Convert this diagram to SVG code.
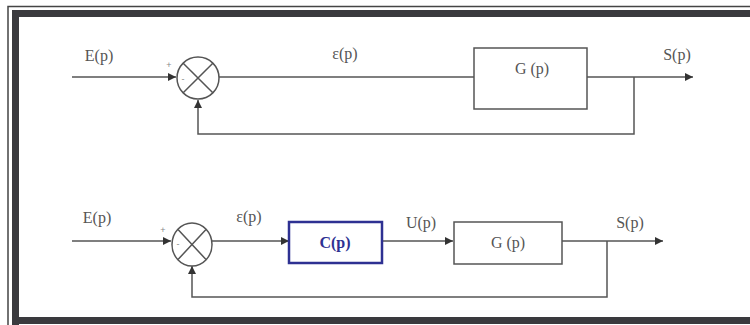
<svg xmlns="http://www.w3.org/2000/svg" width="750" height="325" viewBox="0 0 750 325">
<defs>
<style>
.ln{fill:none;stroke:#555;stroke-width:1.5}
.bx{fill:#fff;stroke:#555;stroke-width:1.5}
.t{font-family:"Liberation Serif",serif;font-size:16px;fill:#555;text-anchor:middle}
.s{font-family:"Liberation Sans",sans-serif;font-size:9px;fill:#888;text-anchor:middle}
</style>
<marker id="ar" viewBox="0 0 10 10" refX="10" refY="5" markerWidth="8" markerHeight="8" markerUnits="userSpaceOnUse" orient="auto">
<path d="M0,0 L10,5 L0,10 z" fill="#333"/>
</marker>
</defs>
<rect width="750" height="325" fill="#fff"/>
<g id="frame">
<path d="M8,325 V6.5 H750" fill="none" stroke="#444" stroke-width="1.5"/>
<path d="M15.5,325 V13.5 H750" fill="none" stroke="#3a3a3e" stroke-width="7"/>
<path d="M15.5,320.5 H750" fill="none" stroke="#3a3a3e" stroke-width="7"/>
</g>
<g id="connectors">
<path class="ln" d="M72,77 H176" marker-end="url(#ar)"/>
<path class="ln" d="M219,77 H474"/>
<path class="ln" d="M587,77 H693" marker-end="url(#ar)"/>
<path class="ln" d="M634,77 V134 H198 V100" marker-end="url(#ar)"/>
<path class="ln" d="M72,241 H171" marker-end="url(#ar)"/>
<path class="ln" d="M212,241 H289" marker-end="url(#ar)"/>
<path class="ln" d="M382,241 H453" marker-end="url(#ar)"/>
<path class="ln" d="M562,241 H663" marker-end="url(#ar)"/>
<path class="ln" d="M607,241 V297 H192 V266" marker-end="url(#ar)"/>
</g>
<g id="sum1">
<circle class="bx" cx="198" cy="78" r="21"/>
<path class="ln" d="M183.2,63.2 L212.8,92.8 M212.8,63.2 L183.2,92.8"/>
<text class="s" x="169" y="68">+</text>
<text class="s" x="183" y="82">-</text>
</g>
<g id="G1">
<rect class="bx" x="474" y="48" width="113" height="61"/>
<text class="t" x="532" y="74">G (p)</text>
</g>
<g id="sum2">
<ellipse class="bx" cx="192" cy="244.5" rx="20" ry="21.5"/>
<path class="ln" d="M178,229.5 L206,259.5 M206,229.5 L178,259.5"/>
<text class="s" x="163" y="233">+</text>
<text class="s" x="178" y="247">-</text>
</g>
<g id="C">
<rect x="289" y="222" width="93" height="41" fill="#fff" stroke="#2e3192" stroke-width="2.5"/>
<text class="t" x="335" y="248" style="fill:#2e3192;font-weight:bold">C(p)</text>
</g>
<g id="G2">
<rect class="bx" x="454" y="222" width="108" height="42"/>
<text class="t" x="508" y="248">G (p)</text>
</g>
<g id="labels">
<text class="t" x="99" y="61">E(p)</text>
<text class="t" x="345" y="59">ε(p)</text>
<text class="t" x="677" y="60">S(p)</text>
<text class="t" x="97" y="223">E(p)</text>
<text class="t" x="249" y="222">ε(p)</text>
<text class="t" x="421" y="228">U(p)</text>
<text class="t" x="630" y="228">S(p)</text>
</g>
</svg>
